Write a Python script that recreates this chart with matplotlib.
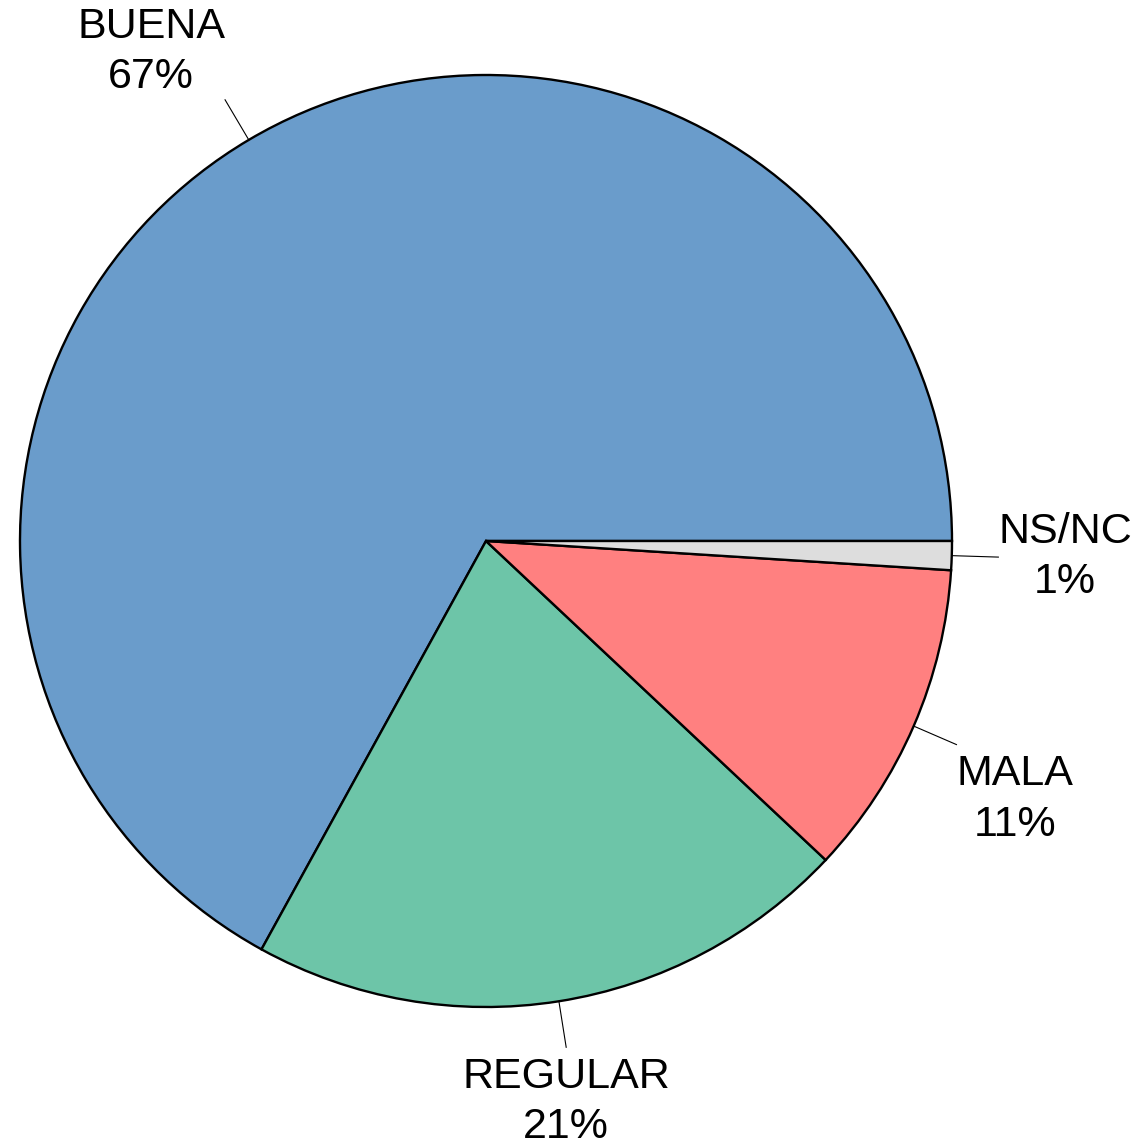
import matplotlib.pyplot as plt
import numpy as np

# Datos del gráfico
categorias = ["BUENA", "REGULAR", "MALA", "NS/NC"]
porcentajes = [67, 21, 11, 1]
colores = ["#6A9CCB", "#6DC5A8", "#FF8080", "#DDDDDD"]

plt.rcParams["font.family"] = ["Liberation Sans", "DejaVu Sans"]

fig = plt.figure(figsize=(11.37, 11.41), dpi=100)
ax = fig.add_axes([0, 0, 1, 1])

wedges, _ = ax.pie(
    porcentajes,
    colors=colores,
    startangle=0,
    counterclock=True,
    wedgeprops=dict(edgecolor="black", linewidth=1.7),
)

# Etiquetas con líneas guía
for w, cat, p in zip(wedges, categorias, porcentajes):
    ang = np.deg2rad((w.theta1 + w.theta2) / 2)
    c, s = np.cos(ang), np.sin(ang)
    ax.plot([c, 1.1 * c], [s, 1.1 * s], color="black", linewidth=0.8)
    ha = "right" if c < -0.3 else ("left" if c > 0.3 else "center")
    va = "bottom" if s > 0.3 else ("top" if s < -0.3 else "center")
    dy = 0 if va == "center" else (-7 if va == "top" else 2)
    ax.annotate(f"{cat}\n{p}%", (1.1 * c, 1.1 * s), xytext=(0, dy),
                textcoords="offset points", ha=ha, va=va,
                multialignment="center", fontsize=31, linespacing=1.33)

# Posición del círculo en la figura
r_px = 466
cx, cy = 486, 541
ax.set_xlim(-cx / r_px, (1137 - cx) / r_px)
ax.set_ylim(-(1141 - cy) / r_px, cy / r_px)
ax.set_aspect("equal")
ax.axis("off")

fig.savefig("out.png", dpi=100)
